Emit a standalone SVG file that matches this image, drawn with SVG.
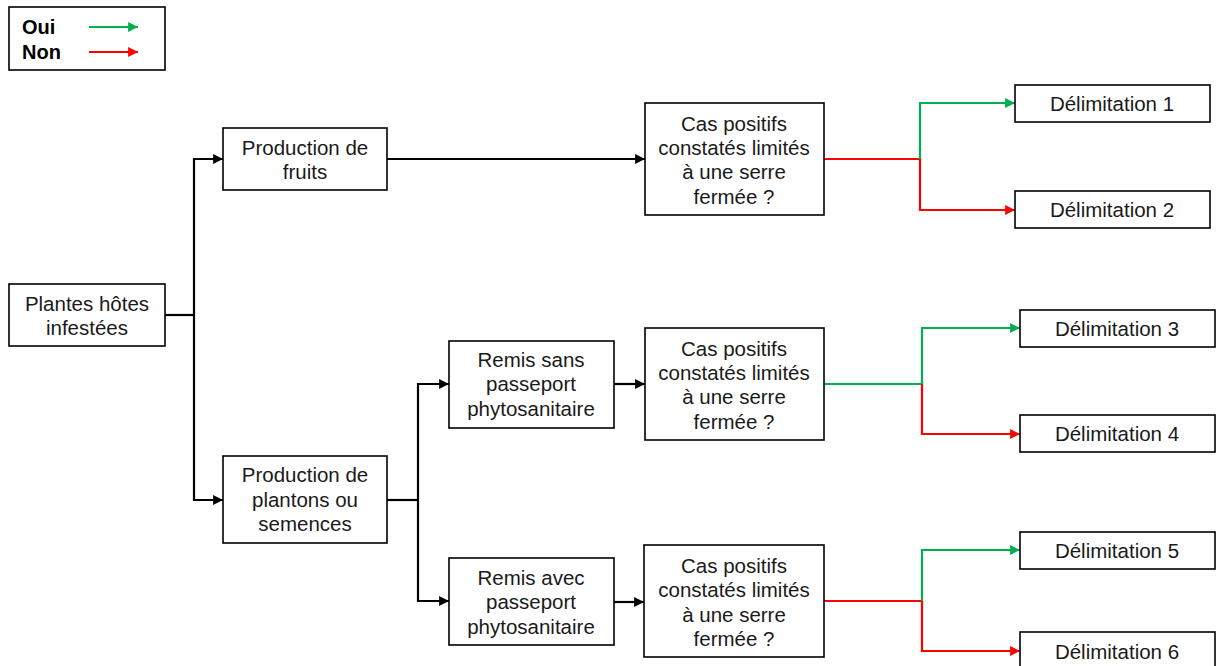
<svg xmlns="http://www.w3.org/2000/svg" width="1217" height="666" viewBox="0 0 1217 666">
<defs>
<marker id="ab" viewBox="0 0 10 10" refX="10" refY="5" markerWidth="4.5" markerHeight="4.5" orient="auto" markerUnits="strokeWidth"><path d="M0,0 L10,5 L0,10 z" fill="#000"/></marker>
<marker id="ag" viewBox="0 0 10 10" refX="10" refY="5" markerWidth="4.5" markerHeight="4.5" orient="auto" markerUnits="strokeWidth"><path d="M0,0 L10,5 L0,10 z" fill="#00B050"/></marker>
<marker id="ar" viewBox="0 0 10 10" refX="10" refY="5" markerWidth="4.5" markerHeight="4.5" orient="auto" markerUnits="strokeWidth"><path d="M0,0 L10,5 L0,10 z" fill="#FF0000"/></marker>
</defs>
<style>
.box{fill:#fff;stroke:#000;stroke-width:1.6}
.t{font-family:"Liberation Sans",Arial,sans-serif;font-size:20.5px;fill:#1a1a1a;text-anchor:middle}
.lg{font-family:"Liberation Sans",Arial,sans-serif;font-size:20px;font-weight:bold;fill:#000}
.k{fill:none;stroke:#000;stroke-width:2.2}
.g{fill:none;stroke:#00B050;stroke-width:2.2}
.r{fill:none;stroke:#FF0000;stroke-width:2.2}
</style>
<rect width="1217" height="666" fill="#fff"/>
<g id="legend">
<rect class="box" x="9" y="7" width="156" height="63"/>
<text class="lg" x="22" y="34">Oui</text>
<text class="lg" x="22" y="59">Non</text>
<line class="g" x1="89" y1="27" x2="138" y2="27" marker-end="url(#ag)"/>
<line class="r" x1="89" y1="52" x2="138" y2="52" marker-end="url(#ar)"/>
</g>
<g id="connectors">
<polyline class="k" points="165,315 194,315"/>
<polyline class="k" points="194,315 194,159 223,159" marker-end="url(#ab)"/>
<polyline class="k" points="194,315 194,500 223,500" marker-end="url(#ab)"/>
<polyline class="k" points="387,159 645,159" marker-end="url(#ab)"/>
<polyline class="k" points="387,500 418,500"/>
<polyline class="k" points="418,500 418,384 449,384" marker-end="url(#ab)"/>
<polyline class="k" points="418,500 418,601 449,601" marker-end="url(#ab)"/>
<polyline class="k" points="614,384 645,384" marker-end="url(#ab)"/>
<polyline class="k" points="614,602 644,602" marker-end="url(#ab)"/>
<polyline class="r" points="824,159 920,159"/>
<polyline class="g" points="920,159 920,103 1015,103" marker-end="url(#ag)"/>
<polyline class="r" points="920,159 920,210 1015,210" marker-end="url(#ar)"/>
<polyline class="g" points="824,384 922,384"/>
<polyline class="g" points="922,384 922,328 1020,328" marker-end="url(#ag)"/>
<polyline class="r" points="922,384 922,434 1020,434" marker-end="url(#ar)"/>
<polyline class="r" points="824,601 922,601"/>
<polyline class="g" points="922,601 922,550 1020,550" marker-end="url(#ag)"/>
<polyline class="r" points="922,601 922,651 1020,651" marker-end="url(#ar)"/>
</g>
<g id="plantes">
<rect class="box" x="9" y="284" width="156" height="62"/>
<text class="t" x="87" y="311">Plantes hôtes</text>
<text class="t" x="87" y="335">infestées</text>
</g>
<g id="fruits">
<rect class="box" x="223" y="128" width="164" height="62"/>
<text class="t" x="305" y="155">Production de</text>
<text class="t" x="305" y="179">fruits</text>
</g>
<g id="plantons">
<rect class="box" x="223" y="456" width="164" height="87"/>
<text class="t" x="305" y="482">Production de</text>
<text class="t" x="305" y="507">plantons ou</text>
<text class="t" x="305" y="531">semences</text>
</g>
<g id="sans">
<rect class="box" x="449" y="341" width="165" height="87"/>
<text class="t" x="531" y="367">Remis sans</text>
<text class="t" x="531" y="391">passeport</text>
<text class="t" x="531" y="416">phytosanitaire</text>
</g>
<g id="avec">
<rect class="box" x="449" y="558" width="165" height="87"/>
<text class="t" x="531" y="585">Remis avec</text>
<text class="t" x="531" y="609">passeport</text>
<text class="t" x="531" y="634">phytosanitaire</text>
</g>
<g id="cas1">
<rect class="box" x="645" y="103" width="179" height="112"/>
<text class="t" x="734" y="131">Cas positifs</text>
<text class="t" x="734" y="155">constatés limités</text>
<text class="t" x="734" y="179">à une serre</text>
<text class="t" x="734" y="204">fermée ?</text>
</g>
<g id="cas2">
<rect class="box" x="645" y="328" width="179" height="112"/>
<text class="t" x="734" y="356">Cas positifs</text>
<text class="t" x="734" y="380">constatés limités</text>
<text class="t" x="734" y="404">à une serre</text>
<text class="t" x="734" y="429">fermée ?</text>
</g>
<g id="cas3">
<rect class="box" x="644" y="545" width="180" height="112"/>
<text class="t" x="734" y="573">Cas positifs</text>
<text class="t" x="734" y="597">constatés limités</text>
<text class="t" x="734" y="622">à une serre</text>
<text class="t" x="734" y="646">fermée ?</text>
</g>
<g id="d1">
<rect class="box" x="1015" y="85" width="195" height="37"/>
<text class="t" x="1112" y="111">Délimitation 1</text>
</g>
<g id="d2">
<rect class="box" x="1015" y="191" width="195" height="37"/>
<text class="t" x="1112" y="217">Délimitation 2</text>
</g>
<g id="d3">
<rect class="box" x="1020" y="310" width="195" height="37"/>
<text class="t" x="1117" y="336">Délimitation 3</text>
</g>
<g id="d4">
<rect class="box" x="1020" y="415" width="195" height="37"/>
<text class="t" x="1117" y="441">Délimitation 4</text>
</g>
<g id="d5">
<rect class="box" x="1020" y="532" width="195" height="37"/>
<text class="t" x="1117" y="558">Délimitation 5</text>
</g>
<g id="d6">
<rect class="box" x="1020" y="632" width="195" height="37"/>
<text class="t" x="1117" y="659">Délimitation 6</text>
</g>
</svg>
